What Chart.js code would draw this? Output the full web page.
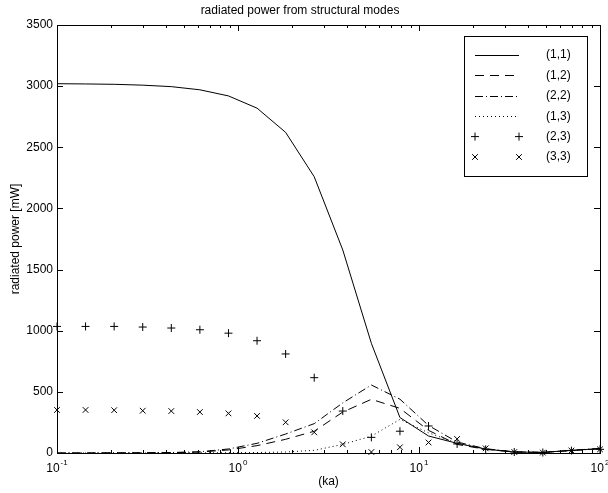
<!DOCTYPE html>
<html>
<head>
<meta charset="utf-8">
<script src="https://cdn.jsdelivr.net/npm/chart.js@4.4.0/dist/chart.umd.min.js"></script>
<style>
  html, body { margin: 0; padding: 0; background: #fff; }
  #wrap { width: 608px; height: 493px; }
</style>
</head>
<body>
<div id="wrap"><canvas id="powerChart" width="608" height="493"></canvas></div>
<script>
// ka values (log spaced, 0.1 .. 100)
var ka = [0.1, 0.1438, 0.2069, 0.2976, 0.4281, 0.6158, 0.8859, 1.274, 1.833, 2.637,
          3.793, 5.456, 7.848, 11.29, 16.24, 23.36, 33.60, 48.33, 69.52, 100];

// radiated power [mW] per structural mode
var mode11 = [3020, 3018, 3015, 3008, 2996, 2970, 2920, 2820, 2622, 2259, 1660, 897, 290, 139, 79, 32, 8, 5, 22, 35];
var mode12 = [0, 0, 1, 1, 3, 8, 25, 60, 112, 178, 335, 439, 365, 185, 70, 30, 8, 5, 20, 35];
var mode22 = [0, 0, 1, 2, 4, 10, 33, 79, 155, 240, 410, 556, 440, 225, 90, 35, 10, 5, 22, 38];
var mode13 = [0, 0, 0, 0, 0, 1, 2, 4, 8, 22, 70, 138, 275, 165, 80, 32, 8, 4, 20, 35];
var mode23 = [1035, 1035, 1035, 1030, 1022, 1008, 980, 918, 810, 616, 343, 128, 178, 221, 74, 30, 8, 4, 20, 30];
var mode33 = [352, 352, 350, 346, 343, 335, 324, 303, 251, 169, 71, 8, 47, 86, 115, 38, 8, 3, 20, 30];

var modeLabels = ['(1,1)', '(1,2)', '(2,2)', '(1,3)', '(2,3)', '(3,3)'];
var yTicks = [0, 500, 1000, 1500, 2000, 2500, 3000, 3500];
var xExponents = [-1, 0, 1, 2];

var fontFamily = '"Liberation Sans", Arial, Helvetica, sans-serif';

function toPoints(vals) {
    return vals.map(function(v, i) { return { x: ka[i], y: v }; });
}

function lineSet(label, vals, dash) {
    return {
        label: label,
        data: toPoints(vals),
        borderColor: '#000',
        borderWidth: 1,
        borderDash: dash,
        pointRadius: 0,
        tension: 0,
        fill: false
    };
}

function markerSet(label, vals, style) {
    return {
        label: label,
        data: toPoints(vals),
        showLine: false,
        borderColor: '#000',
        backgroundColor: '#000',
        borderWidth: 1,
        pointStyle: style,
        pointRadius: 4,
        pointHoverRadius: 4,
        clip: false
    };
}

// box, inward ticks, x labels with exponents, and the legend
const matlabAxes = {
    id: 'matlabAxes',
    afterDraw: function(chart) {
        var c = chart.ctx;
        var a = chart.chartArea;
        var xs = chart.scales.x;
        var ys = chart.scales.y;

        c.save();
        c.strokeStyle = '#000';
        c.lineWidth = 1;
        c.setLineDash([]);

        // x ticks, major and minor, top and bottom
        xExponents.forEach(function(e) {
            var base = Math.pow(10, e);
            var px = Math.round(xs.getPixelForValue(base)) + 0.5;
            c.beginPath();
            c.moveTo(px, a.bottom); c.lineTo(px, a.bottom - 6);
            c.moveTo(px, a.top); c.lineTo(px, a.top + 6);
            c.stroke();
            if (e < 2) {
                for (var m = 2; m <= 9; m++) {
                    var mx = Math.round(xs.getPixelForValue(base * m)) + 0.5;
                    c.beginPath();
                    c.moveTo(mx, a.bottom); c.lineTo(mx, a.bottom - 3);
                    c.moveTo(mx, a.top); c.lineTo(mx, a.top + 3);
                    c.stroke();
                }
            }
        });

        // y ticks left and right
        yTicks.forEach(function(v) {
            var py = Math.round(ys.getPixelForValue(v)) + 0.5;
            c.beginPath();
            c.moveTo(a.left, py); c.lineTo(a.left + 6, py);
            c.moveTo(a.right, py); c.lineTo(a.right - 6, py);
            c.stroke();
        });

        // axes box
        c.strokeRect(Math.round(a.left) + 0.5, Math.round(a.top) + 0.5,
                     Math.round(a.right - a.left), Math.round(a.bottom - a.top));

        // x tick labels: 10 with raised exponent
        c.fillStyle = '#000';
        c.textBaseline = 'alphabetic';
        c.textAlign = 'left';
        xExponents.forEach(function(e) {
            var px = xs.getPixelForValue(Math.pow(10, e));
            var ex = String(e);
            c.font = '12px ' + fontFamily;
            var w1 = c.measureText('10').width;
            c.font = '8px ' + fontFamily;
            var w2 = c.measureText(ex).width;
            var start = px - (w1 + w2 + 1) / 2;
            c.font = '12px ' + fontFamily;
            c.fillText('10', start, a.bottom + 19);
            c.font = '8px ' + fontFamily;
            c.fillText(ex, start + w1 + 1, a.bottom + 12);
        });

        // legend
        var lw = 123, lh = 140;
        var lx = a.right - 13 - lw;
        var ly = a.top + 11;
        c.fillStyle = '#fff';
        c.fillRect(lx, ly, lw, lh);
        c.strokeRect(Math.round(lx) + 0.5, Math.round(ly) + 0.5, lw, lh);

        chart.data.datasets.forEach(function(ds, i) {
            var ry = ly + 19 + i * 20.4;
            var x0 = lx + 11, x1 = lx + 55;
            c.strokeStyle = '#000';
            if (ds.showLine === false) {
                [x0, x1].forEach(function(mx) {
                    Chart.helpers.drawPoint(c, {
                        pointStyle: ds.pointStyle, radius: ds.pointRadius,
                        borderWidth: 1, rotation: 0
                    }, mx, ry);
                });
            } else {
                c.setLineDash(ds.borderDash || []);
                c.beginPath();
                c.moveTo(x0, Math.round(ry) + 0.5);
                c.lineTo(x1, Math.round(ry) + 0.5);
                c.stroke();
                c.setLineDash([]);
            }
            c.fillStyle = '#000';
            c.font = '12px ' + fontFamily;
            c.textBaseline = 'middle';
            c.fillText(ds.label, lx + 82, ry);
        });
        c.restore();
    }
};

const powerConfig = {
    type: 'line',
    data: {
        datasets: [
            lineSet(modeLabels[0], mode11, []),
            lineSet(modeLabels[1], mode12, [9, 6]),
            lineSet(modeLabels[2], mode22, [8, 3, 1, 3]),
            lineSet(modeLabels[3], mode13, [1, 3]),
            markerSet(modeLabels[4], mode23, 'cross'),
            markerSet(modeLabels[5], mode33, 'crossRot')
        ]
    },
    options: {
        responsive: false,
        animation: false,
        events: [],
        layout: { padding: { left: 0, right: 8, top: 0, bottom: 0 } },
        plugins: {
            legend: { display: false },
            tooltip: { enabled: false },
            title: {
                display: true,
                text: 'radiated power from structural modes',
                color: '#000',
                font: { family: fontFamily, size: 12, weight: 'normal' },
                padding: { top: 3, bottom: 7.6 }
            }
        },
        scales: {
            x: {
                type: 'logarithmic',
                min: 0.1,
                max: 100,
                grid: { display: false, drawTicks: false },
                border: { display: false },
                ticks: { display: false },
                title: {
                    display: true,
                    text: '(ka)',
                    color: '#000',
                    font: { family: fontFamily, size: 12 },
                    padding: { top: 4, bottom: 4 }
                },
                afterFit: function(scale) { scale.height = 40; }
            },
            y: {
                min: 0,
                max: 3500,
                grid: { display: false, drawTicks: false },
                border: { display: false },
                ticks: {
                    stepSize: 500,
                    color: '#000',
                    padding: 4,
                    font: { family: fontFamily, size: 12 },
                    callback: function(v) { return String(v); }
                },
                title: {
                    display: true,
                    text: 'radiated power [mW]',
                    color: '#000',
                    font: { family: fontFamily, size: 12 },
                    padding: { top: 8, bottom: 0 }
                },
                afterFit: function(scale) { scale.width = 57; }
            }
        }
    },
    plugins: [matlabAxes]
};

new Chart(document.getElementById('powerChart').getContext('2d'), powerConfig);
</script>
</body>
</html>
